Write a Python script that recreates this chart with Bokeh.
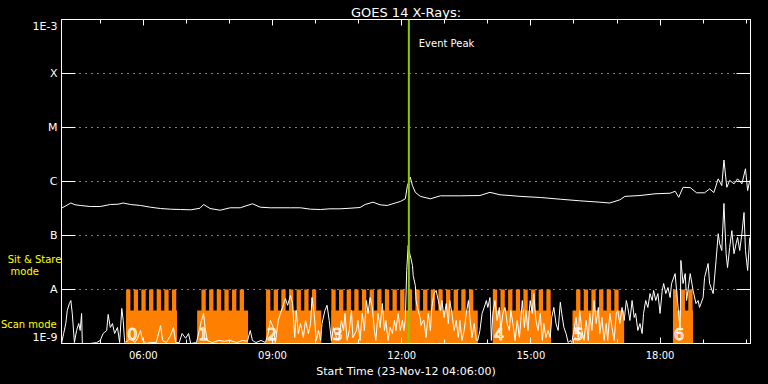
import json
from bokeh.plotting import figure
from bokeh.layouts import row
from bokeh.models import (Range1d, FixedTicker, LinearAxis, LogAxis, Span, Label,
                          CustomJSTickFormatter, ColumnDataSource)
from bokeh.models.glyphs import Text
from bokeh.core.properties import value
from bokeh.embed import file_html
from bokeh.resources import INLINE

# ---------------- data ----------------
START_HOUR = 4.1            # 04:06 UT, start of plot (minutes below are counted from here)
END_HOUR = 20.1

# GOES 14 long channel (1-8 A), flux in units of 1e-7 W/m^2
long_min = [0, 13, 19, 26, 40, 54, 68, 79, 86, 96,
            110, 124, 138, 152, 166, 180, 193, 198, 207, 221,
            235, 249, 266, 277, 291, 319, 333, 347, 361, 374,
            388, 402, 416, 423, 434, 444, 454, 465, 472, 479,
            482, 486, 489, 493, 500, 514, 528, 555, 583, 597,
            611, 625, 639, 667, 695, 722, 750, 764, 778, 785,
            806, 827, 848, 855, 860, 866, 876, 885, 896, 903,
            909, 915, 920, 923, 927, 931, 937, 942, 948, 953,
            956, 959]
long_flux_e7 = [3.2, 4.0, 3.7, 3.6, 3.44, 3.44, 3.75, 3.8, 4.0, 3.75,
                3.6, 3.34, 3.16, 3.07, 3.03, 2.99, 3.2, 3.75, 3.16, 2.94,
                3.26, 3.26, 3.87, 3.34, 3.26, 3.26, 3.26, 3.07, 3.03, 3.12,
                3.12, 3.2, 3.3, 3.75, 4.14, 3.7, 3.6, 4.0, 4.26, 4.78,
                8.4, 12.0, 8.4, 6.3, 5.3, 4.78, 5.43, 5.43, 5.5, 6.3,
                5.67, 5.5, 5.3, 5.06, 4.7, 4.39, 4.14, 4.0, 4.58, 5.3,
                5.5, 5.92, 6.07, 6.6, 5.1, 7.8, 7.7, 6.17, 6.17, 7.3,
                6.25, 11.2, 8.4, 25.0, 7.8, 10.5, 9.06, 11.2, 9.06, 17.2,
                6.8, 10.5]

# GOES 14 short channel (0.5-4 A), flux in units of 1e-9 W/m^2
short_min = [0, 3, 6, 8, 11, 13, 15, 18, 21, 24,
             26, 28, 29, 40, 49, 54, 58, 63, 65, 68,
             71, 74, 78, 81, 84, 86, 88, 93, 97, 102,
             106, 110, 113, 118, 124, 132, 138, 141, 146, 152,
             156, 159, 164, 168, 173, 177, 180, 188, 192, 195,
             198, 200, 203, 210, 219, 227, 235, 244, 252, 259,
             263, 266, 271, 278, 284, 288, 291, 295, 298, 302,
             305, 308, 312, 315, 319, 322, 325, 327, 330, 333,
             337, 340, 344, 347, 349, 352, 355, 358, 361, 363,
             367, 370, 373, 376, 379, 383, 386, 390, 393, 395,
             398, 401, 404, 406, 411, 413, 416, 419, 422, 425,
             427, 430, 433, 436, 438, 441, 444, 447, 450, 452,
             455, 458, 461, 464, 466, 469, 472, 475, 477, 479,
             481, 483, 484, 486, 489, 490, 493, 494, 497, 500,
             501, 504, 505, 508, 511, 514, 516, 519, 522, 525,
             528, 530, 533, 536, 539, 541, 544, 547, 550, 553,
             555, 558, 561, 564, 567, 569, 572, 575, 578, 580,
             583, 586, 589, 592, 594, 597, 599, 601, 604, 607,
             610, 612, 615, 618, 621, 624, 626, 629, 632, 635,
             638, 640, 642, 645, 647, 650, 653, 656, 658, 661,
             664, 667, 670, 672, 675, 678, 681, 683, 686, 689,
             692, 695, 697, 700, 703, 706, 709, 711, 714, 717,
             720, 722, 725, 728, 731, 734, 736, 739, 742, 745,
             748, 750, 753, 756, 759, 761, 764, 767, 770, 773,
             775, 778, 781, 784, 787, 789, 792, 795, 798, 800,
             803, 806, 809, 811, 814, 817, 820, 823, 825, 828,
             831, 834, 837, 839, 842, 845, 848, 850, 855, 857,
             862, 863, 866, 869, 871, 876, 880, 884, 887, 889,
             894, 896, 901, 903, 908, 912, 915, 917, 920, 923,
             926, 928, 931, 934, 937, 940, 942, 945, 948, 951,
             953, 956, 959]
short_flux_e9 = [1.0, 1.53, 2.34, 4.08, 5.5, 6.25, 3.6, 1.04, 1.74, 2.34,
                 1.74, 3.6, 1.0, 1.0, 1.04, 1.14, 1.53, 1.74, 3.45, 1.98,
                 2.34, 1.53, 1.98, 1.04, 4.45, 2.67, 1.04, 1.14, 1.29, 1.04,
                 1.25, 1.74, 1.14, 1.0, 1.04, 1.04, 2.15, 1.14, 1.04, 1.41,
                 1.98, 1.04, 1.04, 1.53, 1.25, 1.53, 1.0, 1.04, 1.74, 2.67,
                 3.6, 1.98, 1.14, 1.04, 1.14, 1.1, 1.14, 1.04, 1.14, 1.1,
                 1.74, 1.14, 1.04, 1.14, 1.04, 1.53, 2.67, 1.98, 1.04, 2.67,
                 3.6, 4.65, 6.8, 5.1, 7.7, 5.5, 1.29, 4.08, 1.53, 2.34,
                 1.29, 2.67, 1.53, 2.34, 7.1, 3.6, 1.14, 1.74, 1.14, 2.34,
                 4.08, 5.1, 2.67, 1.14, 1.98, 1.29, 1.14, 2.67, 1.74, 3.6,
                 1.14, 1.74, 4.08, 1.29, 1.74, 2.67, 1.14, 3.6, 1.74, 6.25,
                 3.6, 7.1, 4.65, 1.74, 1.14, 3.6, 1.98, 5.5, 1.74, 2.67,
                 1.14, 1.98, 1.53, 2.67, 1.74, 3.6, 1.74, 2.67, 1.74, 2.67,
                 22.5, 65.0, 52.7, 42.6, 27.8, 18.2, 11.8, 6.25, 4.08, 2.9,
                 2.15, 2.67, 2.67, 1.29, 3.6, 1.74, 4.65, 8.4, 9.6, 6.25,
                 4.08, 6.25, 3.03, 5.5, 2.34, 6.25, 3.6, 1.74, 2.67, 1.29,
                 2.67, 1.14, 1.74, 3.6, 6.25, 3.03, 1.29, 2.34, 1.14, 1.14,
                 1.74, 3.6, 4.65, 6.25, 4.65, 7.1, 1.14, 3.6, 6.25, 2.67,
                 4.65, 1.74, 3.6, 4.65, 2.34, 1.74, 4.08, 2.34, 1.14, 2.67,
                 1.29, 2.67, 6.25, 1.98, 4.08, 1.74, 6.25, 3.6, 8.4, 2.67,
                 1.74, 3.6, 1.14, 2.34, 1.29, 1.74, 1.29, 3.03, 4.65, 2.34,
                 1.74, 5.8, 3.6, 1.98, 1.53, 1.04, 1.14, 1.04, 1.74, 3.03,
                 1.29, 4.08, 1.74, 1.14, 2.67, 1.14, 3.6, 1.74, 6.25, 2.34,
                 4.65, 1.53, 3.03, 1.14, 2.34, 1.14, 3.6, 1.98, 1.14, 3.6,
                 4.08, 2.34, 4.65, 2.67, 6.25, 4.65, 2.67, 6.25, 3.03, 3.6,
                 1.74, 2.34, 1.53, 3.6, 6.25, 4.65, 8.4, 6.25, 9.6, 6.25,
                 8.4, 3.6, 9.6, 12.9, 8.4, 10.9, 7.1, 12.9, 19.7, 9.6,
                 1.74, 34.5, 12.9, 19.7, 6.25, 19.7, 9.6, 5.5, 6.25, 4.65,
                 7.1, 16.7, 30.3, 12.9, 8.4, 34.5, 108.0, 71.0, 52.7, 392.0,
                 46.0, 25.5, 60.0, 123.0, 46.0, 71.0, 92.0, 52.7, 108.0, 266.0,
                 52.7, 22.5, 92.0]

# Observation blocks (minutes after 04:06)
block_start_min = [90, 189, 285, 376, 601, 712, 852]
block_end_min = [161, 260, 362, 580, 682, 784, 880]
raster_first_min = [90, 195, 285, 376, 601, 717, 852]
raster_count = [7, 6, 7, 19, 8, 6, 3]
raster_cadence_min = 10.65
raster_length_min = 6.0
block_labels = ["0", "1", "2", "3", "4", "5", "6"]
scan_level = 4.1e-9        # top of scan-mode bars
sit_level = 1e-8           # top of sit & stare bars
floor_level = 1e-9

event_peak_min = 484        # 12:10 UT

x_tick_hours = [6, 9, 12, 15, 18]
x_tick_labels = ["06:00", "09:00", "12:00", "15:00", "18:00"]
x_minor_hours = list(range(5, 21))
y_tick_exp = [-9, -8, -7, -6, -5, -4, -3]
y_tick_labels = ["1E-9", "A", "B", "C", "M", "X", "1E-3"]
mode_texts = ["Sit & Stare", "mode", "Scan mode"]


def hrs(mins):
    return [START_HOUR + m / 60.0 for m in mins]


FONT = "DejaVu Sans"
ORANGE = "#ff8000"
YELLOW = "#ffff00"
TOP, BOTTOM, LEFT_W, RIGHT = 19, 41, 61, 18      # page layout (px)

decades = [10.0 ** e for e in y_tick_exp]
blank = CustomJSTickFormatter(code="return '';")

# ---------- main plot ----------
p = figure(width=768 - LEFT_W, height=384, output_backend="svg", toolbar_location=None,
           x_range=Range1d(START_HOUR, END_HOUR), y_range=Range1d(1e-9, 1e-3),
           y_axis_type="log",
           min_border_left=0, min_border_right=RIGHT, min_border_top=TOP,
           min_border_bottom=BOTTOM,
           background_fill_color="black", border_fill_color="black",
           outline_line_color="white")

p.xgrid.visible = False
p.ygrid.ticker = FixedTicker(ticks=decades[1:-1])
p.ygrid.grid_line_color = "white"
p.ygrid.grid_line_dash = "1 5"
p.ygrid.grid_line_width = 1

# left axis: ticks only (its labels are drawn in the caption panel to the left)
ya = p.yaxis[0]
ya.ticker = FixedTicker(ticks=decades, minor_ticks=[])
ya.formatter = blank
ya.major_tick_in = 14
ya.major_tick_out = 0
ya.minor_tick_line_color = None
ya.major_label_standoff = 0
ya.major_label_text_font_size = "1px"
ya.axis_line_color = "white"
ya.major_tick_line_color = "white"

# right axis (ticks only)
ra = LogAxis(ticker=FixedTicker(ticks=decades, minor_ticks=[]), formatter=blank,
             major_tick_in=14, major_tick_out=0, minor_tick_line_color=None,
             axis_line_color="white", major_tick_line_color="white", major_label_standoff=0,
             major_label_text_font_size="1px")
p.add_layout(ra, "right")

# bottom axis
xa = p.xaxis[0]
xa.ticker = FixedTicker(ticks=x_tick_hours, minor_ticks=x_minor_hours)
xa.major_label_overrides = {h: l for h, l in zip(x_tick_hours, x_tick_labels)}
xa.major_tick_in = 6
xa.major_tick_out = 0
xa.minor_tick_in = 4
xa.minor_tick_out = 0
xa.axis_line_color = "white"
xa.major_tick_line_color = "white"
xa.minor_tick_line_color = "white"
xa.major_label_text_color = "white"
xa.major_label_text_font = FONT
xa.major_label_text_font_size = "10px"
xa.major_label_standoff = 6
xa.axis_label = "Start Time (23-Nov-12 04:06:00)"
xa.axis_label_text_color = "white"
xa.axis_label_text_font = FONT
xa.axis_label_text_font_size = "11px"
xa.axis_label_text_font_style = "normal"
xa.axis_label_standoff = 1

# top axis (ticks only) carrying the title
ta = LinearAxis(ticker=FixedTicker(ticks=x_tick_hours, minor_ticks=x_minor_hours),
                formatter=blank,
                major_tick_in=6, major_tick_out=0, minor_tick_in=4, minor_tick_out=0,
                major_label_standoff=0, major_label_text_font_size="1px",
                axis_line_color="white", major_tick_line_color="white",
                minor_tick_line_color="white",
                axis_label="GOES 14 X-Rays:", axis_label_text_color="white",
                axis_label_text_font=FONT, axis_label_text_font_size="13px",
                axis_label_text_font_style="normal", axis_label_standoff=0)
p.add_layout(ta, "above")

# observation blocks
p.quad(left=hrs(block_start_min), right=hrs(block_end_min),
       bottom=[floor_level] * len(block_start_min), top=[scan_level] * len(block_start_min),
       fill_color=ORANGE, line_color=None)
tl, tr = [], []
for first, n in zip(raster_first_min, raster_count):
    for k in range(n):
        s = first + k * raster_cadence_min
        tl.append(s)
        tr.append(s + raster_length_min)
p.quad(left=hrs(tl), right=hrs(tr), bottom=[floor_level] * len(tl), top=[sit_level] * len(tl),
       fill_color=ORANGE, line_color=None)

# block numbers (hollow white digits)
src = ColumnDataSource(dict(x=hrs([b + 1.5 for b in block_start_min]),
                            y=[1.53e-9] * len(block_labels), t=block_labels))
text_kw = dict(x="x", y="y", text="t", text_font_size="16px", text_align="left",
               text_baseline="middle", text_font=value(FONT))
if "text_outline_color" in Text.properties():
    text_kw.update(text_color=ORANGE, text_outline_color="white")
else:
    text_kw.update(text_color="white")
p.text(source=src, **text_kw)

# GOES curves
p.line(hrs(long_min), [v * 1e-7 for v in long_flux_e7], line_color="white", line_width=1)
p.line(hrs(short_min), [v * 1e-9 for v in short_flux_e9], line_color="white", line_width=1)

# event peak
peak_h = START_HOUR + event_peak_min / 60.0
p.add_layout(Span(location=peak_h, dimension="height", line_color="#8cc800", line_width=2))
p.add_layout(Label(x=peak_h + 0.23, y=3.6e-4, text="Event Peak", text_color="white",
                   text_font=FONT, text_font_size="10px", text_align="left",
                   text_baseline="middle"))

# ---------- caption panel to the left (y tick labels + mode captions) ----------
# its frame is aligned with the main frame by the row layout, so it shares the y range
c = figure(width=LEFT_W, height=384, output_backend="svg", toolbar_location=None,
           x_range=Range1d(0, LEFT_W), y_range=p.y_range, y_axis_type="log",
           x_axis_location=None, y_axis_location=None,
           min_border_left=0, min_border_right=0, min_border_top=TOP,
           min_border_bottom=BOTTOM,
           background_fill_color="black", border_fill_color="black", outline_line_color=None)
c.grid.visible = False

lab_x = LEFT_W - 4
lab_kw = dict(text_color="white", text_font=value(FONT), text_font_size="11px",
              text_align="right")
c.text(x=[lab_x] * (len(decades) - 2), y=decades[1:-1], text=y_tick_labels[1:-1],
       text_baseline="middle", **lab_kw)
c.text(x=[lab_x], y=[decades[-1]], text=[y_tick_labels[-1]], text_baseline="top", **lab_kw)
c.text(x=[lab_x], y=[decades[0]], text=[y_tick_labels[0]], text_baseline="bottom", **lab_kw)

for txt, xc, yv in zip(mode_texts, [34.0, 24.3, 28.3], [3.6e-8, 2.15e-8, 2.25e-9]):
    c.add_layout(Label(x=xc, y=yv, text=txt, text_color=YELLOW, text_font=FONT,
                       text_font_size="10px", text_align="center", text_baseline="middle"))

layout = row(c, p, spacing=0)
html = file_html(layout, INLINE, title="GOES 14 X-Rays")
html = html.replace("<head>", "<head><style>html,body{background:#000;}</style>", 1)
open("out.html", "w").write(html)
